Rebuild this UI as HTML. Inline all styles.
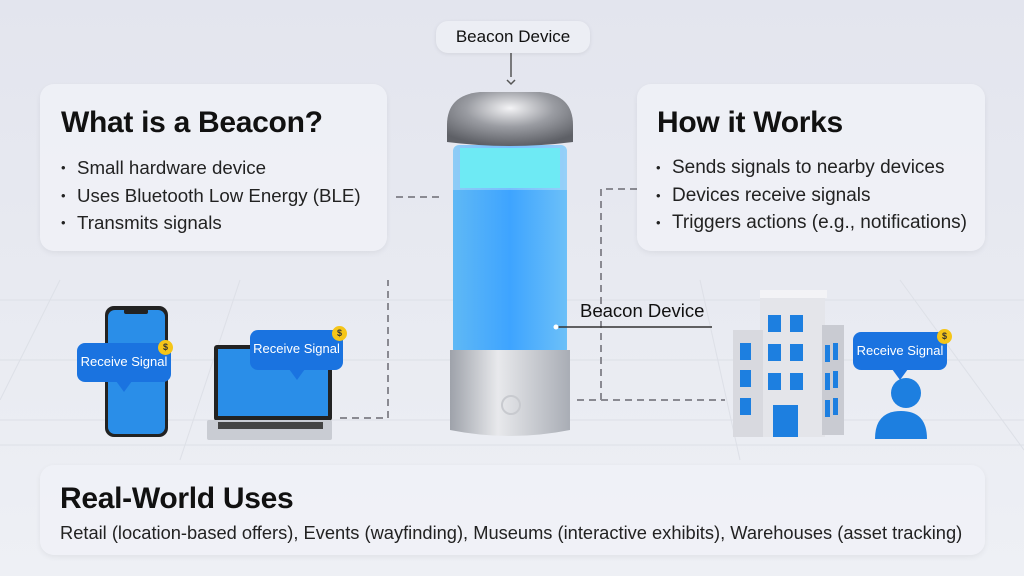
<!DOCTYPE html>
<html><head><meta charset="utf-8"><style>
*{margin:0;padding:0;box-sizing:border-box}
body{width:1024px;height:576px;overflow:hidden;position:relative;font-family:"Liberation Sans",sans-serif;background:linear-gradient(180deg,#e3e5ee 0%,#e8eaf1 50%,#eef0f5 100%);color:#111}
.a{position:absolute}
.card{position:absolute;background:rgba(240,241,247,0.85);border-radius:14px;box-shadow:0 2px 6px rgba(0,0,0,0.06)}
.card h2{position:absolute;font-size:30px;font-weight:bold;letter-spacing:-0.3px}
.card ul{position:absolute;list-style:none;font-size:18.7px;color:#222}
.card li{height:27.5px;line-height:27.5px}
.card li:before{content:"•";display:inline-block;width:16px;font-size:13px;vertical-align:top}
.bub{position:absolute;background:#1a73e0;color:#fff;border-radius:8px;font-size:13px;text-align:center;line-height:38px}
.bub:after{content:"";position:absolute;left:50%;bottom:-10px;margin-left:-8px;border-left:8px solid transparent;border-right:8px solid transparent;border-top:11px solid #1a73e0}
.coin{position:absolute;width:15px;height:15px;border-radius:50%;background:#f5c518;font-size:9px;line-height:15px;text-align:center;color:#333;font-weight:bold}
</style></head><body>
<svg class="a" style="left:0;top:0" width="1024" height="576">
<g stroke="#dde0e7" stroke-width="1" fill="none">
<line x1="0" y1="300" x2="1024" y2="300"/><line x1="0" y1="360" x2="1024" y2="360"/><line x1="0" y1="420" x2="1024" y2="420"/><line x1="0" y1="445" x2="1024" y2="445"/>
<line x1="60" y1="280" x2="0" y2="400"/><line x1="240" y1="280" x2="180" y2="460"/><line x1="700" y1="280" x2="740" y2="460"/><line x1="900" y1="280" x2="1024" y2="450"/>
</g>
<g stroke="#8a8a92" stroke-width="2" stroke-dasharray="7,5" fill="none">
<path d="M396 197 H440"/>
<path d="M340 418 H388 V280"/>
<path d="M637 189 H601 V400 H575"/>
<path d="M601 400 H725"/>
</g>
<line x1="511" y1="53" x2="511" y2="77" stroke="#555" stroke-width="1.5"/>
<path d="M507 80 L511 84 L515 80" stroke="#555" fill="none" stroke-width="1.5"/>
<defs>
<linearGradient id="gl" x1="0" x2="1"><stop offset="0" stop-color="#5fb8f5"/><stop offset="0.5" stop-color="#3ea4ff"/><stop offset="1" stop-color="#6cc0f8"/></linearGradient>
<linearGradient id="sv" x1="0" x2="1"><stop offset="0" stop-color="#9ea2aa"/><stop offset="0.4" stop-color="#e8e9ec"/><stop offset="1" stop-color="#a9adb5"/></linearGradient>
<radialGradient id="cap" cx="0.5" cy="0.3" r="0.7"><stop offset="0" stop-color="#f4f4f6"/><stop offset="0.5" stop-color="#9a9ca2"/><stop offset="1" stop-color="#5e6066"/></radialGradient>
</defs>
<rect x="453" y="145" width="114" height="210" rx="6" fill="url(#gl)"/>
<rect x="460" y="148" width="100" height="40" fill="#2ee6f2"/>
<rect x="453" y="145" width="114" height="45" fill="rgba(230,240,250,0.35)"/>
<path d="M447 142 V125 Q447 95 480 92 H540 Q573 95 573 125 V142 Q510 150 447 142 Z" fill="url(#cap)"/>
<path d="M450 350 H570 V430 Q510 442 450 430 Z" fill="url(#sv)"/>
<circle cx="511" cy="405" r="9" fill="none" stroke="#c8cacf" stroke-width="2"/>
<line x1="556" y1="327" x2="712" y2="327" stroke="#333" stroke-width="1.5"/>
<circle cx="556" cy="327" r="2.5" fill="#fff"/>
<rect x="105" y="306" width="63" height="131" rx="9" fill="#222"/>
<rect x="108" y="310" width="57" height="124" rx="7" fill="#2a8ee8"/>
<rect x="124" y="309" width="24" height="5" rx="2" fill="#222"/>
<rect x="214" y="345" width="118" height="76" rx="3" fill="#222"/>
<rect x="218" y="349" width="110" height="67" fill="#2a8ee8"/>
<rect x="207" y="420" width="125" height="20" rx="2" fill="#c9ccd3"/>
<rect x="218" y="422" width="105" height="7" fill="#444"/>
<polygon points="760,295 825,290 825,437 760,437" fill="#e4e5ea"/>
<rect x="733" y="330" width="30" height="107" fill="#d8d9df"/>
<rect x="822" y="325" width="22" height="110" fill="#c9cbd2"/>
<rect x="760" y="290" width="67" height="8" fill="#f3f3f6"/>
<g fill="#1d7fe0">
<rect x="768" y="315" width="13" height="17"/><rect x="790" y="315" width="13" height="17"/>
<rect x="768" y="344" width="13" height="17"/><rect x="790" y="344" width="13" height="17"/>
<rect x="768" y="373" width="13" height="17"/><rect x="790" y="373" width="13" height="17"/>
<rect x="740" y="343" width="11" height="17"/><rect x="740" y="370" width="11" height="17"/><rect x="740" y="398" width="11" height="17"/>
<rect x="825" y="345" width="5" height="17"/><rect x="833" y="343" width="5" height="17"/>
<rect x="825" y="373" width="5" height="17"/><rect x="833" y="371" width="5" height="17"/>
<rect x="825" y="400" width="5" height="17"/><rect x="833" y="398" width="5" height="17"/>
<rect x="773" y="405" width="25" height="32"/>
<circle cx="906" cy="393" r="15"/>
<path d="M875 439 Q875 411 901 411 Q927 411 927 439 Z"/>
</g>
</svg>
<div class="a" style="left:436px;top:21px;width:154px;height:32px;border-radius:12px;background:#eceef4;font-size:17px;line-height:32px;text-align:center;box-shadow:0 1px 4px rgba(0,0,0,0.08)">Beacon Device</div>
<div class="a" style="left:580px;top:300px;font-size:18.5px">Beacon Device</div>
<div class="card" style="left:40px;top:84px;width:347px;height:167px">
<h2 style="left:21px;top:22px">What is a Beacon?</h2>
<ul style="left:21px;top:70px"><li>Small hardware device</li><li>Uses Bluetooth Low Energy (BLE)</li><li>Transmits signals</li></ul>
</div>
<div class="card" style="left:637px;top:84px;width:348px;height:167px">
<h2 style="left:20px;top:22px">How it Works</h2>
<ul style="left:19px;top:70px;font-size:19px"><li>Sends signals to nearby devices</li><li>Devices receive signals</li><li>Triggers actions (e.g., notifications)</li></ul>
</div>
<div class="bub" style="left:77px;top:343px;width:94px;height:39px">Receive Signal</div>
<div class="coin" style="left:158px;top:340px">$</div>
<div class="bub" style="left:250px;top:330px;width:93px;height:40px">Receive Signal</div>
<div class="coin" style="left:332px;top:326px">$</div>
<div class="bub" style="left:853px;top:332px;width:94px;height:38px">Receive Signal</div>
<div class="coin" style="left:937px;top:329px">$</div>
<div class="card" style="left:40px;top:465px;width:945px;height:90px">
<h2 style="left:20px;top:17px;font-size:30px">Real-World Uses</h2>
<div class="a" style="left:20px;top:57px;font-size:18.3px;color:#222;white-space:nowrap">Retail (location-based offers), Events (wayfinding), Museums (interactive exhibits), Warehouses (asset tracking)</div>
</div>
</body></html>
